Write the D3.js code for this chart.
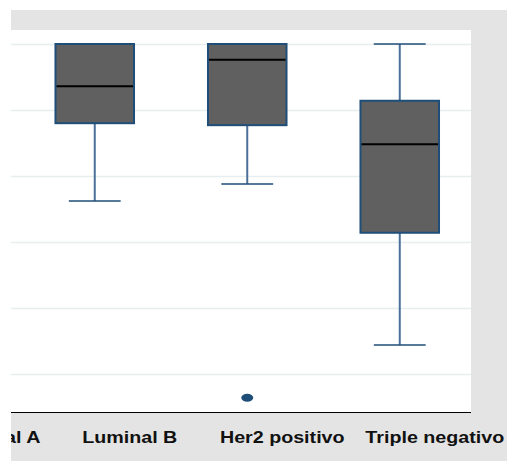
<!DOCTYPE html>
<html>
<head>
<meta charset="utf-8">
<script src="https://cdn.jsdelivr.net/npm/d3@7"></script>
<style>
  html, body { margin: 0; padding: 0; background: #ffffff; }
  svg { display: block; }
  .cat-label { font-family: "Liberation Sans", Arial, sans-serif; font-weight: bold; font-size: 16px; fill: #111; }
</style>
</head>
<body>
<svg id="chart" width="507" height="461"></svg>
<script>
// Molecular subtypes on the x axis
const categories = ["Luminal A", "Luminal B", "Her2 positivo", "Triple negativo"];

// Five-number summaries per subtype (null where the box is not shown)
const minimum  = [null, 36.2, 38.8, 14.4];
const q1       = [null, 48.0, 47.7, 31.4];
const median   = [null, 53.6, 57.6, 44.8];
const q3       = [null, 60.0, 60.0, 51.4];
const maximum  = [null, 60.0, 60.0, 60.0];

// Individual outliers: [category, value]
const outliers = [["Her2 positivo", 6.4]];

// Gridline values on the value axis
const gridTicks = [10, 20, 30, 40, 50, 60];

const W = 507, H = 461;
const frame = { x: 11, y: 10, w: W - 11, h: H - 10 };
const plot = { left: 11, right: 471, top: 30, bottom: 412 };

// Label placement relative to each category centre
const labelOffset = 35;
const labelNudge = { "Luminal A": 16 };

const svg = d3.select("#chart");

svg.append("defs").append("clipPath").attr("id", "frame-clip")
  .append("rect").attr("x", frame.x).attr("y", frame.y).attr("width", frame.w).attr("height", frame.h);

const g = svg.append("g").attr("clip-path", "url(#frame-clip)");

// Outer grey panel and white plotting area
g.append("rect").attr("x", frame.x).attr("y", frame.y).attr("width", frame.w).attr("height", frame.h)
  .attr("fill", "#e4e4e4");
g.append("rect").attr("x", plot.left).attr("y", plot.top)
  .attr("width", plot.right - plot.left).attr("height", plot.bottom - plot.top)
  .attr("fill", "#ffffff");

const x = d3.scaleBand().domain(categories).range([-134, 476]).padding(0);
const y = d3.scaleLinear().domain([10, 60]).range([374, 44]);

const boxW = x.bandwidth() * 0.515;
const capW = x.bandwidth() * 0.34;

// Horizontal gridlines
const grid = g.append("g").attr("transform", `translate(${plot.left},0)`)
  .call(d3.axisLeft(y).tickValues(gridTicks).tickSize(-(plot.right - plot.left)).tickFormat(""));
grid.select(".domain").remove();
grid.selectAll(".tick line").attr("stroke", "#e7eef0").attr("stroke-width", 1.5);

// Baseline of the category axis
const xAxis = g.append("g").attr("transform", `translate(0,${plot.bottom})`)
  .call(d3.axisBottom(x).tickSize(0).tickFormat(""));
xAxis.select(".domain").attr("d", `M${plot.left},0.5H${plot.right}`).attr("stroke", "#000").attr("stroke-width", 1);

// Category labels (slightly widened type)
g.selectAll("text.cat-label").data(categories).join("text")
  .attr("class", "cat-label")
  .attr("text-anchor", "middle")
  .attr("transform", d => `translate(${x(d) + x.bandwidth() / 2 + labelOffset + (labelNudge[d] || 0)},443) scale(1.23,1)`)
  .text(d => d);

// Box plots
const stats = categories.map((c, i) => ({
  cat: c, min: minimum[i], q1: q1[i], med: median[i], q3: q3[i], max: maximum[i]
})).filter(d => d.med !== null);

const boxes = g.selectAll("g.box").data(stats).join("g").attr("class", "box")
  .attr("transform", d => `translate(${x(d.cat) + x.bandwidth() / 2},0)`);

// whisker stems
boxes.append("line").attr("x1", 0).attr("x2", 0)
  .attr("y1", d => y(d.q1)).attr("y2", d => y(d.min))
  .attr("stroke", "#4a7099").attr("stroke-width", 2);
boxes.filter(d => d.max > d.q3).append("line").attr("x1", 0).attr("x2", 0)
  .attr("y1", d => y(d.q3)).attr("y2", d => y(d.max))
  .attr("stroke", "#4a7099").attr("stroke-width", 2);

// whisker caps
boxes.append("line").attr("x1", -capW / 2).attr("x2", capW / 2)
  .attr("y1", d => y(d.min)).attr("y2", d => y(d.min))
  .attr("stroke", "#1f4e79").attr("stroke-width", 1.5);
boxes.filter(d => d.max > d.q3).append("line").attr("x1", -capW / 2).attr("x2", capW / 2)
  .attr("y1", d => y(d.max)).attr("y2", d => y(d.max))
  .attr("stroke", "#1f4e79").attr("stroke-width", 1.5);

// interquartile box
boxes.append("rect")
  .attr("x", -boxW / 2).attr("width", boxW)
  .attr("y", d => y(d.q3)).attr("height", d => y(d.q1) - y(d.q3))
  .attr("fill", "#606060").attr("stroke", "#1f4e79").attr("stroke-width", 2);

// median
boxes.append("line").attr("x1", -boxW / 2 + 1).attr("x2", boxW / 2 - 1)
  .attr("y1", d => y(d.med)).attr("y2", d => y(d.med))
  .attr("stroke", "#000").attr("stroke-width", 2);

// outliers
g.selectAll("ellipse.outlier").data(outliers).join("ellipse")
  .attr("class", "outlier")
  .attr("cx", d => x(d[0]) + x.bandwidth() / 2)
  .attr("cy", d => y(d[1]))
  .attr("rx", 6).attr("ry", 4)
  .attr("fill", "#1f4e79");
</script>
</body>
</html>
